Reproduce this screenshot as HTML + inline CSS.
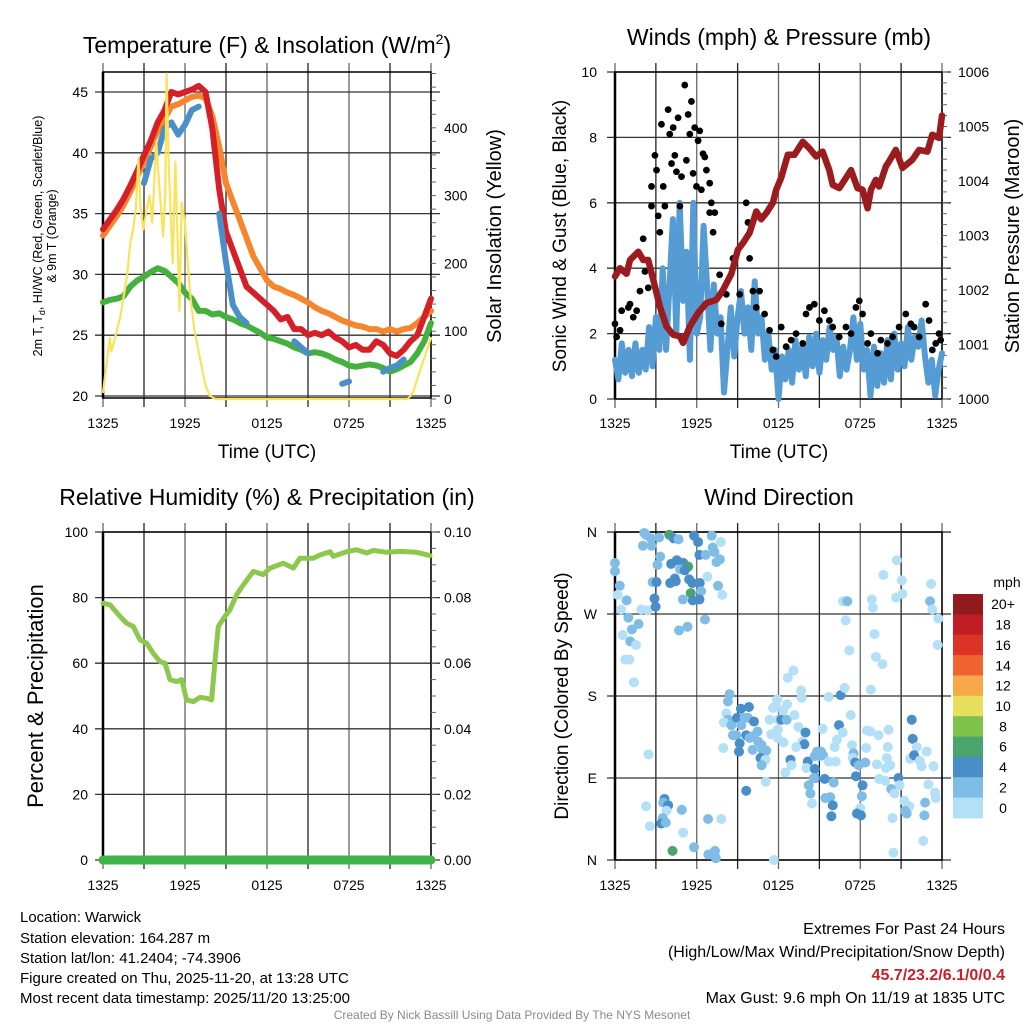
<!DOCTYPE html>
<html><head><meta charset="utf-8">
<style>
html,body{margin:0;padding:0;background:#fff;}
svg{display:block;font-family:"Liberation Sans",Arial,sans-serif;}
</style></head>
<body>
<svg id="chart" width="1024" height="1024" viewBox="0 0 1024 1024" xmlns="http://www.w3.org/2000/svg">
<g id="layer"></g>
<text x="267" y="53" font-size="23" text-anchor="middle">Temperature (F) &amp; Insolation (W/m<tspan font-size="14" dy="-9">2</tspan><tspan dy="9">)</tspan></text>
<text x="779" y="45" font-size="23" text-anchor="middle">Winds (mph) &amp; Pressure (mb)</text>
<text x="267" y="505" font-size="23" text-anchor="middle">Relative Humidity (%) &amp; Precipitation (in)</text>
<text x="779" y="505" font-size="23" text-anchor="middle">Wind Direction</text>
<text x="267" y="458" font-size="19" text-anchor="middle">Time (UTC)</text>
<text x="779" y="458" font-size="19" text-anchor="middle">Time (UTC)</text>
<text transform="translate(42,236) rotate(-90)" font-size="12.5" text-anchor="middle">2m T, T<tspan font-size="9" dy="3">d</tspan><tspan dy="-3">, HI/WC (Red, Green, Scarlet/Blue)</tspan></text>
<text transform="translate(56,236) rotate(-90)" font-size="12.5" text-anchor="middle">&amp; 9m T (Orange)</text>
<text transform="translate(501,236) rotate(-90)" font-size="20" text-anchor="middle">Solar Insolation (Yellow)</text>
<text transform="translate(566,236) rotate(-90)" font-size="19" text-anchor="middle">Sonic Wind &amp; Gust (Blue, Black)</text>
<text transform="translate(1019,236) rotate(-90)" font-size="20" text-anchor="middle">Station Pressure (Maroon)</text>
<text transform="translate(43,696) rotate(-90)" font-size="22" text-anchor="middle">Percent &amp; Precipitation</text>
<text transform="translate(568,696) rotate(-90)" font-size="19" text-anchor="middle">Direction (Colored By Speed)</text>
<g font-size="15">
<text x="20" y="922">Location: Warwick</text>
<text x="20" y="943">Station elevation: 164.287 m</text>
<text x="20" y="963">Station lat/lon: 41.2404; -74.3906</text>
<text x="20" y="983">Figure created on Thu, 2025-11-20, at 13:28 UTC</text>
<text x="20" y="1003">Most recent data timestamp: 2025/11/20 13:25:00</text>
</g>
<g font-size="16" text-anchor="end">
<text x="1005" y="934">Extremes For Past 24 Hours</text>
<text x="1005" y="957">(High/Low/Max Wind/Precipitation/Snow Depth)</text>
<text x="1005" y="980" fill="#c8202a" font-weight="bold">45.7/23.2/6.1/0/0.4</text>
<text x="1005" y="1003">Max Gust: 9.6 mph On 11/19 at 1835 UTC</text>
</g>
<text x="512" y="1019" font-size="12" fill="#8a8a8a" text-anchor="middle">Created By Nick Bassill Using Data Provided By The NYS Mesonet</text>
</svg>
<script>
const timeLabels = ["1325","1925","0125","0725","1325"];
const tempTicks = [20,25,30,35,40,45];
const solarTicks = [0,100,200,300,400];
const windTicks = [0,2,4,6,8,10];
const pressTicks = [1000,1001,1002,1003,1004,1005,1006];
const rhTicks = [0,20,40,60,80,100];
const precipTicks = ["0.00","0.02","0.04","0.06","0.08","0.10"];
const dirLabels = ["N","E","S","W","N"];
const speedBins = ["0","2","4","6","8","10","12","14","16","18","20+"];
const speedColors = ["#b3e0f6","#80bde6","#4a8ec8","#4aa56d","#7dc24a","#e8e05c","#f6a94a","#ef6330","#dd3327","#bf1e24","#911a1c"];

const tempRed = [33.7,34.5,35.3,36.2,37.3,38.5,39.8,41,42.5,43.5,45,44.8,45,45.2,45.5,45,42,37,33.5,32,30.5,29,28.5,28,27.5,27,26.3,26.5,25.5,25.5,25,25.2,25,25.3,24.8,24.5,24,24.2,23.8,23.8,24.5,24.2,23.5,23.3,23.8,24.5,25,26.5,28];
const tempOrange = [33.2,34,34.8,35.7,36.8,38,39.3,40.5,41.8,42.8,43.8,44,44.3,44.6,44.7,44.5,43,40.5,37.5,36,34.5,33,31.5,30.5,29.5,29,28.8,28.5,28.3,28,27.7,27.3,27,26.8,26.5,26.2,26,25.8,25.7,25.5,25.5,25.3,25.5,25.3,25.5,25.6,26,26.5,27];
const tempGreen = [27.7,27.9,28,28.2,29,29.5,29.8,30.2,30.5,30.3,29.8,29.3,28.5,28,27,27,26.7,26.8,26.5,26.3,26,25.8,25.5,25.2,24.8,24.7,24.5,24.3,24,23.8,23.5,23.6,23.5,23.3,23,22.8,22.5,22.4,22.5,22.6,22.5,22.3,22,22.2,22.5,22.8,23.5,24.5,26];
const tempBlue = [null,null,null,null,null,null,37.5,39.5,40,42,42.5,41.5,42.3,43.5,43.8,null,null,35,31,27.5,26.5,26,null,null,null,null,null,null,24.5,24,23.5,null,null,null,null,21,21.2,null,null,null,null,22,22.3,22.5,23,null,null,null,null];
const solarTimes = [0,0.25,0.5,0.6,0.75,1,1.25,1.5,1.75,2,2.2,2.4,2.6,2.75,2.95,3.2,3.4,3.6,3.9,4.1,4.4,4.55,4.65,4.8,5.0,5.1,5.3,5.5,5.6,5.75,6.0,6.2,6.4,6.7,7.1,7.5,7.8,8.2,22.3,22.7,23,23.5,24];
const solarValues = [10,50,90,70,80,100,120,150,180,230,250,280,355,280,250,280,300,260,380,320,240,300,480,350,250,200,350,200,130,290,260,200,150,100,60,20,5,0,0,10,30,60,90];

const windSpeed = [1.2,0.6,1.7,0.8,1.5,0.7,1.7,0.8,1.5,0.9,2.2,1.0,2.5,
1.5,4.0,1.5,3.5,5.5,2.0,6.0,3.0,4.5,1.2,6.0,2.0,
2.5,5.3,3.5,1.5,3.5,2.0,2.5,0.2,1.5,2.8,1.3,2.5,
3.3,2.0,2.8,1.5,3.6,2.0,2.5,1.2,2.0,0.9,1.5,0.0,
1.3,0.6,1.5,0.5,1.8,0.9,1.6,0.7,1.9,1.0,2.0,0.8,
1.8,1.2,2.2,1.5,1.9,0.7,1.6,0.9,1.5,2.5,1.2,2.3,
0.9,1.5,0.1,1.6,0.4,1.4,0.5,1.8,0.6,2.0,0.9,1.7,
1.0,2.2,1.2,1.9,1.6,2.4,1.3,0.5,1.2,0.1,0.9,1.4];
const gustTimes = [0,0.12,0.37,0.49,0.98,1.1,1.34,1.59,1.83,2.07,2.2,2.44,2.68,2.68,2.93,3.05,3.17,3.29,3.41,3.54,3.66,3.9,4.02,4.15,4.27,4.39,4.51,4.63,4.76,4.88,5.12,5.24,5.37,5.49,5.61,5.73,5.85,5.98,6.1,6.22,6.34,6.46,6.59,6.71,6.95,6.95,7.07,7.2,7.32,7.68,7.8,8.17,8.66,9.15,9.63,9.76,9.88,10.12,10.37,10.61,10.98,11.34,11.59,11.83,12.2,12.56,12.93,13.29,13.78,14.02,14.27,14.63,15.0,15.37,15.73,15.98,16.46,16.95,17.32,17.68,17.93,18.17,18.54,18.78,19.27,19.51,20.0,20.37,20.85,21.34,21.71,21.95,22.32,22.8,23.05,23.29,23.54,23.78,23.9];
const gustValues = [2.3,1.9,2.1,2.7,2.8,2.9,2.5,2.7,3.3,4.9,3.9,3.4,5.9,6.5,7.45,7.0,5.6,5.1,8.4,6.5,5.9,8.85,8.1,7.2,8.3,7.45,6.95,8.6,5.9,6.8,9.6,7.3,8.7,8.1,9.1,6.9,8.3,6.5,7.9,8.2,6.4,7.5,7.4,7.0,6.6,5.7,6.0,5.1,5.7,3.8,2.3,3.2,4.3,3.2,6.0,5.4,4.3,3.3,2.8,3.3,2.6,2.1,1.5,1.3,2.2,1.6,1.8,2.0,1.7,2.6,2.8,2.9,2.4,2.7,2.4,2.2,1.9,2.2,2.0,2.8,3.0,2.6,1.7,2.0,1.4,1.8,1.7,1.9,2.2,2.6,2.3,2.2,1.9,2.9,2.4,1.5,1.7,2.0,1.8];
const pressTimes = [0,0.37,0.85,1.1,1.71,2.07,2.44,2.8,3.29,3.78,4.27,4.76,5,5.49,6.1,6.71,7.44,7.93,8.54,9.02,9.39,9.88,10.37,10.73,11.1,11.59,11.83,12.2,12.68,13.17,13.78,14.27,14.76,15.24,15.73,15.98,16.46,17.32,17.8,18.17,18.54,18.78,19.15,19.39,19.88,20.12,20.61,21.1,21.83,22.32,22.93,23.29,23.78,24];
const pressValues = [1002.25,1002.4,1002.3,1002.55,1002.7,1002.55,1002.55,1002.2,1001.7,1001.33,1001.18,1001.15,1001.03,1001.33,1001.58,1001.76,1001.82,1002.0,1002.3,1002.74,1002.86,1003.05,1003.44,1003.3,1003.41,1003.6,1003.84,1004.06,1004.48,1004.48,1004.72,1004.6,1004.45,1004.54,1004.2,1003.93,1003.87,1004.2,1003.87,1003.84,1003.5,1003.84,1004.02,1003.9,1004.27,1004.36,1004.57,1004.24,1004.39,1004.57,1004.54,1004.85,1004.79,1005.2];

const rhTimes = [0,0.51,1.24,1.73,2.22,2.71,3.2,3.68,4.17,4.54,4.9,5.39,5.76,6.12,6.61,7.1,7.59,7.95,8.2,8.44,8.93,9.29,9.78,10.27,11,11.73,12.22,13.2,13.93,14.41,15.39,15.88,16.61,16.85,17.83,18.56,19.29,19.78,20.76,21.73,22.95,23.93];
const rhValues = [78.3,77.8,74.3,72.2,71.2,67.1,66.1,63,60.5,60,55,54.4,55,48.8,48.3,49.6,49.3,48.8,61,71.2,74.3,76.3,80.9,83.9,88,87,89,90.5,89,92,92,93,94,92.6,94,94.6,93.6,94.4,93.8,94.1,93.8,92.8];
const precipTimes = [0,24];
const precipValues = [0,0];

const dirTimes = [0,0,0.35,0.2,0.85,0.45,0.98,1.24,0.56,1.12,1.73,1.54,0.76,1.05,1.39,1.93,2.4,2.15,2.27,2.05,2.68,2.63,3.24,3.32,3.12,2.76,3.05,2.9,2.98,3.98,4.32,4.66,4.12,4.54,5.02,5.37,4.78,5.12,4.39,4.05,4.46,5.44,5.68,6.22,5.56,6.32,4.98,5.71,6.2,5.8,6.1,6.2,6.65,7.1,7.17,7.3,7.45,7.7,7.76,6.78,7.56,7.88,6.6,5.32,4.7,
2.46,2.28,2.56,3.63,3.54,3.9,3.78,3.5,3.4,3.73,4.9,5.0,4.22,5.8,6.83,6.85,7.15,7.34,7.4,7.8,
8.41,8.29,8.17,8.29,8,8.54,8.66,8.9,8.95,9.24,9.27,9.51,9.83,9.76,10.2,9.63,10.15,10.46,9.88,9.15,9.1,10.1,7.95,10.51,10.76,10.83,11.1,10.68,11.05,10.76,11.07,11.34,11.46,11.6,11.9,11.8,12.0,12.2,12.6,12.34,12.63,11.95,11.95,12.37,9.63,12.68,13.1,13.17,13.66,13.7,13.46,13.98,13.76,13.9,13.3,12.88,12.95,12.5,14.15,14.05,
14.83,15.12,15.24,14.66,15,15.27,15.68,14.66,14.7,14.59,15.39,16.05,14.22,14.34,14.46,15.44,15.8,15.98,15.88,15.68,16.56,16.85,17.3,16.44,16.71,16.29,16.12,16.2,15.7,17.4,17.51,17.44,17.63,17.88,17.68,18.17,18.12,18,17.76,18.05,16.73,17.05,16.93,17.2,19.7,20.68,21.05,21.1,20.63,18.85,18.93,19.05,19.15,19.63,18.78,23.2,23.12,23.29,23.73,23.68,18.49,18.73,19.34,20.07,20.02,18.44,18.37,19.22,19.95,19.88,20.2,19.39,19.83,20.8,20.88,20.27,20.51,21.24,21.6,21.29,21.41,20.37,20.44,21.78,21.85,22.15,21.66,21.95,22.37,22.5,22.88,23.37,23,23.49,23.54,22.76,22.71,22.63,11.66];
const dirDegrees = [326,317,301,291,285,275,266,253,247,240,259,236,220,220,195,275,274,359,357,345,345,353,354,333,324,305,305,287,278,357,353,352,325,329,326,322,319,318,309,304,306,308,304,304,293,295,286,285,286,356,349,335,335,356,343,338,327,330,349,311,301,291,264,256,252,
116,59,37,67,63,60,54,46,40,41,55,30,10,14,45,6,7,10,2,45,
182,174,161,154,151,148,137,137,156,166,148,156,168,156,152,137,136,141,134,128,119,121,123,130,126,121,120,112,110,104,86,154,138,167,176,170,154,154,154,164,171,143,134,129,76,200,208,159,186,178,146,140,130,127,124,110,104,96,108,101,
119,119,144,114,114,115,108,100,90,90,89,85,82,73,62,68,69,60,48,179,181,189,159,148,140,132,124,108,108,126,117,112,107,104,92,82,70,57,51,49,284,284,263,230,313,329,307,292,288,286,277,248,223,215,187,303,284,275,265,236,142,141,137,143,124,123,107,105,112,101,104,89,87,90,82,78,73,65,59,54,51,46,8,154,133,124,111,115,109,103,119,103,83,74,68,63,49,21,0];
const dirSpeeds = [3,3,3,1,3,1,3,3,1,3,3,1,1,1,1,1,1,3,3,3,3,3,3,3,3,3,5,5,5,7,5,3,5,5,5,7,3,5,5,5,5,5,5,5,7,3,3,5,5,5,5,5,3,3,3,3,3,3,1,1,3,1,3,3,3,
1,1,1,5,3,5,1,3,5,3,3,1,7,3,3,3,3,3,3,1,
3,3,1,3,1,3,3,3,5,5,3,3,5,3,5,5,3,3,3,5,5,3,1,3,3,3,3,5,1,3,1,1,1,1,1,1,1,5,3,1,1,1,1,1,5,1,1,1,1,1,1,5,1,5,1,5,1,1,5,1,
3,3,1,3,3,3,1,5,5,3,5,3,3,3,1,3,3,5,5,1,5,1,1,5,1,1,1,1,1,1,3,1,5,3,5,5,3,1,5,5,1,3,1,1,1,1,1,1,1,1,1,1,1,1,1,1,3,1,1,1,1,1,1,1,1,1,3,1,1,1,1,1,1,5,1,3,1,1,1,3,3,1,1,5,5,1,1,5,1,1,1,1,1,1,1,3,3,1,1];

const NS = "http://www.w3.org/2000/svg";
const layer = document.getElementById('layer');
function mk(tag, attrs, parent){ const e=document.createElementNS(NS,tag); for(const k in attrs) e.setAttribute(k,attrs[k]); (parent||layer).appendChild(e); return e; }

const panels = {
  tl:{x0:103,x1:431,y0:72,y1:398},
  tr:{x0:615,x1:942,y0:72,y1:399},
  bl:{x0:103,x1:431,y0:532,y1:860},
  br:{x0:615,x1:942,y0:532,y1:860}
};
function xScale(p,h){ return p.x0 + h*(p.x1-p.x0)/24; }
const yTemp = t => 396 - (t-20)*12.16;
const ySolar = v => 399 - v*0.678;
const yWind = v => 399 - v*32.7;
const yPress = p => 399 - (p-1000)*54.5;
const yRH = r => 860 - r*3.28;
const yPrecip = v => 860 - v*3280;
const yDir = d => 860 - d*0.911;

function grid(p, name, hVals, yf){
  const g = mk('g',{});
  
  
  for(let i=0;i<=8;i++){
    const x = p.x0 + i*(p.x1-p.x0)/8;
    mk('line',{x1:x,x2:x,y1:p.y0-9,y2:p.y1+9,stroke:(i%2? '#222':'#666'),'stroke-width':1.3},g);
  }
  hVals.forEach(v=>{ const y=yf(v); mk('line',{x1:p.x0-8,x2:p.x1+9,y1:y,y2:y,stroke:'#333','stroke-width':1.3},g); });
  const fr = mk('rect',{x:p.x0,y:p.y0,width:p.x1-p.x0,height:p.y1-p.y0,fill:'none',stroke:'#000','stroke-width':1.5},g);
  
  
  mk('line',{x1:p.x0,x2:p.x0,y1:p.y0,y2:p.y1,stroke:'#000','stroke-width':2.5},g);
}
function xLabels(p, name, y){
  timeLabels.forEach((t,i)=>{
    const e = mk('text',{x:p.x0+i*(p.x1-p.x0)/4,y:y,'font-size':14,'text-anchor':'middle'});
    e.textContent=t;
    
    
  });
}
function yLabels(vals, yf, x, anchor, name){
  vals.forEach(v=>{
    const e = mk('text',{x:x,y:yf(typeof v==='string'?parseFloat(v):v)+5,'font-size':14,'text-anchor':anchor});
    e.textContent = v;
    
    
  });
}
function rightMinor(p, yf, start, end, step){
  for(let v=start; v<=end+1e-9; v+=step){ const y=yf(v); mk('line',{x1:p.x1,x2:p.x1+5,y1:y,y2:y,stroke:'#666','stroke-width':1}); }
}
function pathFrom(xs, ys){
  let d='', pen=false;
  for(let i=0;i<xs.length;i++){
    if(ys[i]==null){pen=false;continue;}
    d += (pen?'L':'M') + xs[i].toFixed(1)+','+ys[i].toFixed(1);
    pen=true;
  }
  return d;
}
function series(name, p, vals, yf, color, w, times){
  const n=vals.length;
  const xs = vals.map((v,i)=> xScale(p, times? times[i] : i*24/(n-1)));
  const ys = vals.map(v=> v==null?null:yf(v));
  const e = mk('path',{d:pathFrom(xs,ys),fill:'none',stroke:color,'stroke-width':w,'stroke-linejoin':'round','stroke-linecap':'round'});
  
  
  return e;
}

const P1=panels.tl;
grid(P1,'temperature',tempTicks,yTemp);
rightMinor(P1, ySolar, 0, 480, 20);
xLabels(P1,'temperature',428);
yLabels(tempTicks,yTemp,88,'end','temperature-y');
yLabels(solarTicks,ySolar,444,'start','solar-y');
series('temp-9m-orange-line',P1,tempOrange,yTemp,'#f5862e',6);
series('temp-2m-red-line',P1,tempRed,yTemp,'#d62027',6);
series('dewpoint-green-line',P1,tempGreen,yTemp,'#46b03e',6);
series('windchill-blue-line',P1,tempBlue,yTemp,'#4a90c8',6);
series('solar-yellow-line',P1,solarValues,ySolar,'#f9e35a',2.2,solarTimes);

const P2=panels.tr;
grid(P2,'wind',windTicks,yWind);
rightMinor(P2, yPress, 1000, 1006, 0.2);
xLabels(P2,'wind',428);
yLabels(windTicks,yWind,597,'end','wind-y');
yLabels(pressTicks,yPress,958,'start','pressure-y');
series('sonic-wind-blue-line',P2,windSpeed,yWind,'#559bd4',6);
gustTimes.forEach((t,i)=>{
  const c = mk('circle',{cx:xScale(P2,t),cy:yWind(gustValues[i]),r:3.4,fill:'#000'});
  
  
});
series('pressure-maroon-line',P2,pressValues,yPress,'#9b1b1e',6.5,pressTimes);

const P3=panels.bl;
grid(P3,'humidity',rhTicks,yRH);
rightMinor(P3, yRH, 0, 100, 5);
xLabels(P3,'humidity',890);
yLabels(rhTicks,yRH,88,'end','humidity-y');
yLabels(precipTicks,yPrecip,444,'start','precip-y');
series('relative-humidity-line',P3,rhValues,yRH,'#8cc84b',5,rhTimes);
series('precipitation-line',P3,precipValues,yPrecip,'#3fb549',9,precipTimes);

const P4=panels.br;
const dirVals=[0,90,180,270,360];
grid(P4,'direction',dirVals,yDir);
xLabels(P4,'direction',890);
dirVals.forEach((v,i)=>{
  const e=mk('text',{x:597,y:yDir(v)+5,'font-size':14,'text-anchor':'end'});
  e.textContent=dirLabels[i];
  
  
});
dirTimes.forEach((t,i)=>{
  const bin = Math.min(10, Math.floor(dirSpeeds[i]/2));
  const c = mk('circle',{cx:xScale(P4,t),cy:yDir(dirDegrees[i]),r:5,fill:speedColors[bin]});
  
  
});
const cb = mk('g',{});


const cbTop=594, cbH=224/11;
speedBins.forEach((lab,i)=>{
  const k = speedBins.length-1-i;
  const y = cbTop + i*cbH;
  const r = mk('rect',{x:953,y:y,width:30,height:cbH+0.5,fill:speedColors[k]},cb);
  
  
  const t = mk('text',{x:1003,y:y+cbH/2+5,'font-size':14,'text-anchor':'middle'},cb);
  t.textContent = speedBins[k];
  
  
});
const mph = mk('text',{x:1007,y:587,'font-size':14,'text-anchor':'middle'},cb);
mph.textContent='mph';


</script>
</body></html>
